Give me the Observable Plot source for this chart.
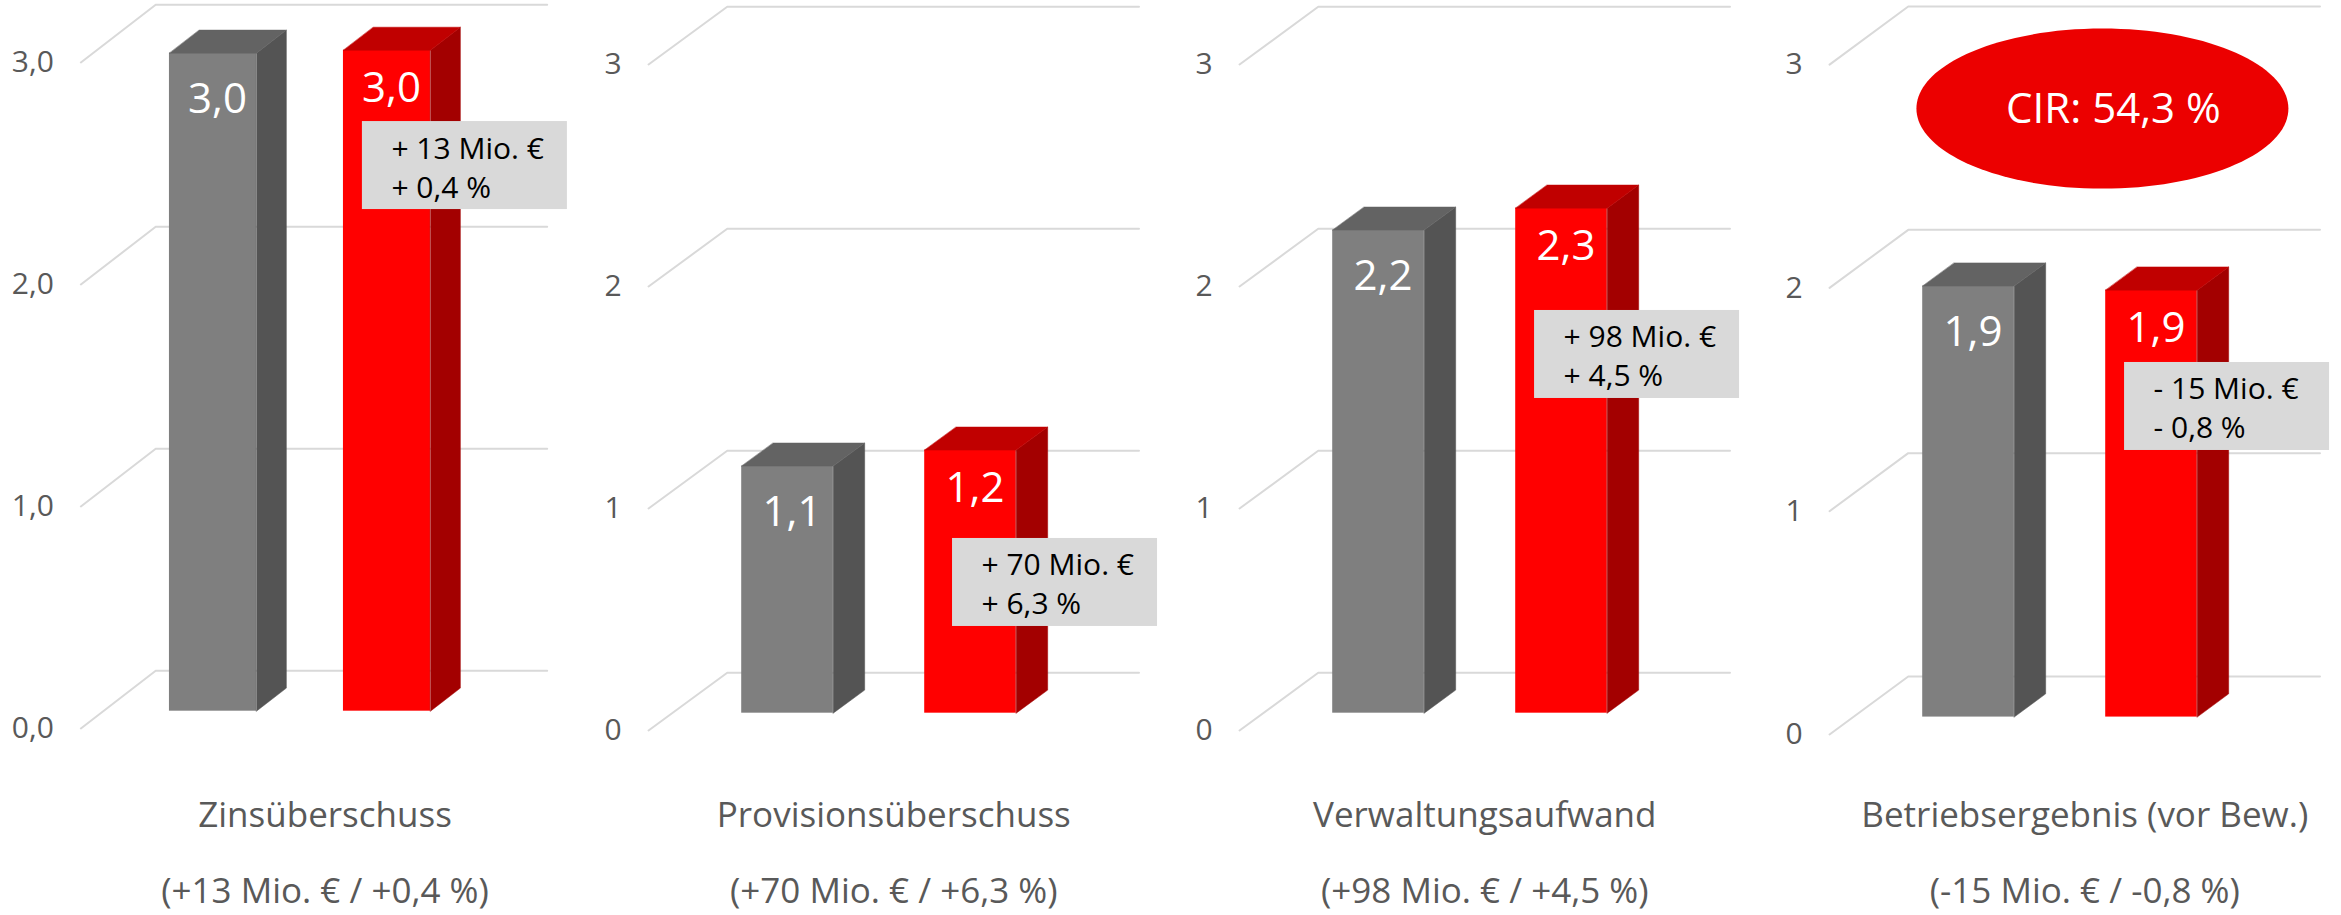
<!DOCTYPE html>
<html>
<head>
<meta charset="utf-8">
<script src="https://cdn.jsdelivr.net/npm/d3@7"></script>
<script src="https://cdn.jsdelivr.net/npm/@observablehq/plot@0.6"></script>
<style>
  html, body { margin: 0; padding: 0; background: #ffffff; }
  #chart { position: relative; width: 2341px; height: 915px; overflow: hidden; background: #ffffff; }
  #chart svg { position: absolute; top: 0; }
</style>
</head>
<body>
<div id="chart"></div>
<script>
// ---------- data ----------
const categories = ["Zinsüberschuss", "Provisionsüberschuss", "Verwaltungsaufwand", "Betriebsergebnis (vor Bew.)"];
const changeLabels = ["(+13 Mio. € / +0,4 %)", "(+70 Mio. € / +6,3 %)", "(+98 Mio. € / +4,5 %)", "(-15 Mio. € / -0,8 %)"];
const priorValues = [2.964, 1.113, 2.176, 1.930];     // Vorjahr (grau), Mrd. €
const currentValues = [2.977, 1.185, 2.275, 1.912];   // Berichtsjahr (rot), Mrd. €
const deltaAbs = ["+ 13 Mio. €", "+ 70 Mio. €", "+ 98 Mio. €", "- 15 Mio. €"];
const deltaPct = ["+ 0,4 %", "+ 6,3 %", "+ 4,5 %", "- 0,8 %"];
const tickValues = [0, 1, 2, 3];
const tickLabelsDecimal = ["0,0", "1,0", "2,0", "3,0"];
const tickLabelsInteger = ["0", "1", "2", "3"];
const cirLabel = "CIR: 54,3 %";

// ---------- layout (3D oblique geometry in data units) ----------
const H = 915;
const DXU = 0.43;   // floor depth in x (slot units)
const DYU = 0.26;   // floor depth in y (value units)
const D0 = 0.3, D1 = 0.7;  // bar depth range within floor
const BW = 0.5;     // bar width (slot units)
const FL = -0.38, FR = 1.87; // floor left/right at front
const layouts = [
  {left: 0,    width: 600, x0: 146.5, S: 174, y0: 728, U: 222,   ticks: tickLabelsDecimal, boxX: 1.238, boxTop: 2.734, labelDx: 11},
  {left: 600,  width: 591, x0: 117.6, S: 183, y0: 730, U: 222,   ticks: tickLabelsInteger, boxX: 1.281, boxTop: 0.865, labelDx: 0},
  {left: 1191, width: 590, x0: 117.6, S: 183, y0: 730, U: 222,   ticks: tickLabelsInteger, boxX: 1.232, boxTop: 1.892, labelDx: 0},
  {left: 1781, width: 560, x0: 117.6, S: 183, y0: 734, U: 223.3, ticks: tickLabelsInteger, boxX: 1.232, boxTop: 1.666, labelDx: 10}
];
const seriesStyle = [
  {front: "#7f7f7f", side: "#545454", top: "#636363", labelDy: 60},
  {front: "#ff0000", side: "#a30000", top: "#c00000", labelDy: 52}
];
const FONT = '"Open Sans", sans-serif';
const fmt = v => d3.format(".1f")(v).replace(".", ",");

const ellipseSymbol = (rx, ry) => ({
  draw(ctx) {
    const k = 0.5522847498;
    ctx.moveTo(rx, 0);
    ctx.bezierCurveTo(rx, ry * k, rx * k, ry, 0, ry);
    ctx.bezierCurveTo(-rx * k, ry, -rx, ry * k, -rx, 0);
    ctx.bezierCurveTo(-rx, -ry * k, -rx * k, -ry, 0, -ry);
    ctx.bezierCurveTo(rx * k, -ry, rx, -ry * k, rx, 0);
    ctx.closePath();
  }
});

function panel(k) {
  const L = layouts[k];
  const vals = [priorValues[k], currentValues[k]];
  const bars = vals.map((v, i) => ({i, v, label: fmt(v), ...seriesStyle[i]}));

  const gridPts = tickValues.flatMap(t => [
    {t, x: FL, y: t},
    {t, x: FL + DXU, y: t + DYU},
    {t, x: FR + DXU, y: t + DYU}
  ]);

  const marks = [
    Plot.line(gridPts, {x: "x", y: "y", z: "t", stroke: "#d9d9d9", strokeWidth: 2})
  ];

  const ddx = (D1 - D0) * DXU, ddy = (D1 - D0) * DYU;
  for (const b of bars) {
    const xa = b.i + D0 * DXU, xb = b.i + BW + D0 * DXU;
    const ya = D0 * DYU, yb = b.v + D0 * DYU;
    marks.push(Plot.rect([{x1: xa, x2: xb, y1: ya, y2: yb}], {x1: "x1", x2: "x2", y1: "y1", y2: "y2", fill: b.front}));
    const side = [{x: xb, y: ya}, {x: xb + ddx, y: ya + ddy}, {x: xb + ddx, y: yb + ddy}, {x: xb, y: yb}];
    const top = [{x: xa, y: yb}, {x: xb, y: yb}, {x: xb + ddx, y: yb + ddy}, {x: xa + ddx, y: yb + ddy}];
    marks.push(Plot.line(side, {x: "x", y: "y", fill: b.side, stroke: b.side, strokeWidth: 0.5, curve: "linear-closed"}));
    marks.push(Plot.line(top, {x: "x", y: "y", fill: b.top, stroke: b.top, strokeWidth: 0.5, curve: "linear-closed"}));
    marks.push(Plot.text([b], {
      x: d => d.i + BW / 2 + D0 * DXU, y: d => d.v + D0 * DYU, text: "label",
      dx: 4.5, dy: b.labelDy, lineAnchor: "bottom", fontSize: 42, fill: "#ffffff"
    }));
  }

  // y tick labels
  marks.push(Plot.text(tickValues, {
    x: () => FL, y: d => d, text: (d, j) => L.ticks[j],
    textAnchor: "end", dx: -27, fontSize: 30, fill: "#595959"
  }));

  // delta box
  marks.push(Plot.rect([0], {
    x1: () => L.boxX, x2: () => L.boxX + 205 / L.S,
    y1: () => L.boxTop - 88 / L.U, y2: () => L.boxTop, fill: "#d9d9d9"
  }));
  marks.push(Plot.text([deltaAbs[k]], {
    x: () => L.boxX, y: () => L.boxTop, text: d => d, dx: 29, dy: 37,
    textAnchor: "start", lineAnchor: "bottom", fontSize: 30, fill: "#000000"
  }));
  marks.push(Plot.text([deltaPct[k]], {
    x: () => L.boxX, y: () => L.boxTop, text: d => d, dx: 29, dy: 76,
    textAnchor: "start", lineAnchor: "bottom", fontSize: 30, fill: "#000000"
  }));

  // CIR ellipse on last panel
  if (k === 3) {
    marks.push(Plot.dot([cirLabel], {
      x: () => 1.111, y: () => 2.803, r: 10, symbol: ellipseSymbol(186, 80),
      fill: "#ec0000", stroke: "none"
    }));
    marks.push(Plot.text([cirLabel], {
      x: () => 1.111, y: () => 2.803, text: d => d, dx: 11, dy: 14,
      lineAnchor: "bottom", fontSize: 42, fill: "#ffffff"
    }));
  }

  // category labels
  const cx = (FL + FR) / 2 + 0.5 * DXU;
  marks.push(Plot.text([categories[k]], {
    x: () => cx, text: d => d, frameAnchor: "bottom", dx: L.labelDx, dy: -89,
    lineAnchor: "bottom", fontSize: 35, fill: "#595959"
  }));
  marks.push(Plot.text([changeLabels[k]], {
    x: () => cx, text: d => d, frameAnchor: "bottom", dx: L.labelDx, dy: -13,
    lineAnchor: "bottom", fontSize: 35, fill: "#595959"
  }));

  const svg = Plot.plot({
    width: L.width,
    height: H,
    margin: 0,
    x: {type: "linear", domain: [-L.x0 / L.S, (L.width - L.x0) / L.S], range: [0, L.width], axis: null},
    y: {type: "linear", domain: [(L.y0 - H) / L.U, L.y0 / L.U], range: [H, 0], axis: null},
    style: {fontFamily: FONT, background: "transparent", overflow: "visible"},
    marks
  });
  svg.style.left = L.left + "px";
  svg.style.maxWidth = "none";
  return svg;
}

const chart = document.getElementById("chart");
for (let k = 0; k < categories.length; k++) chart.appendChild(panel(k));
</script>
</body>
</html>
